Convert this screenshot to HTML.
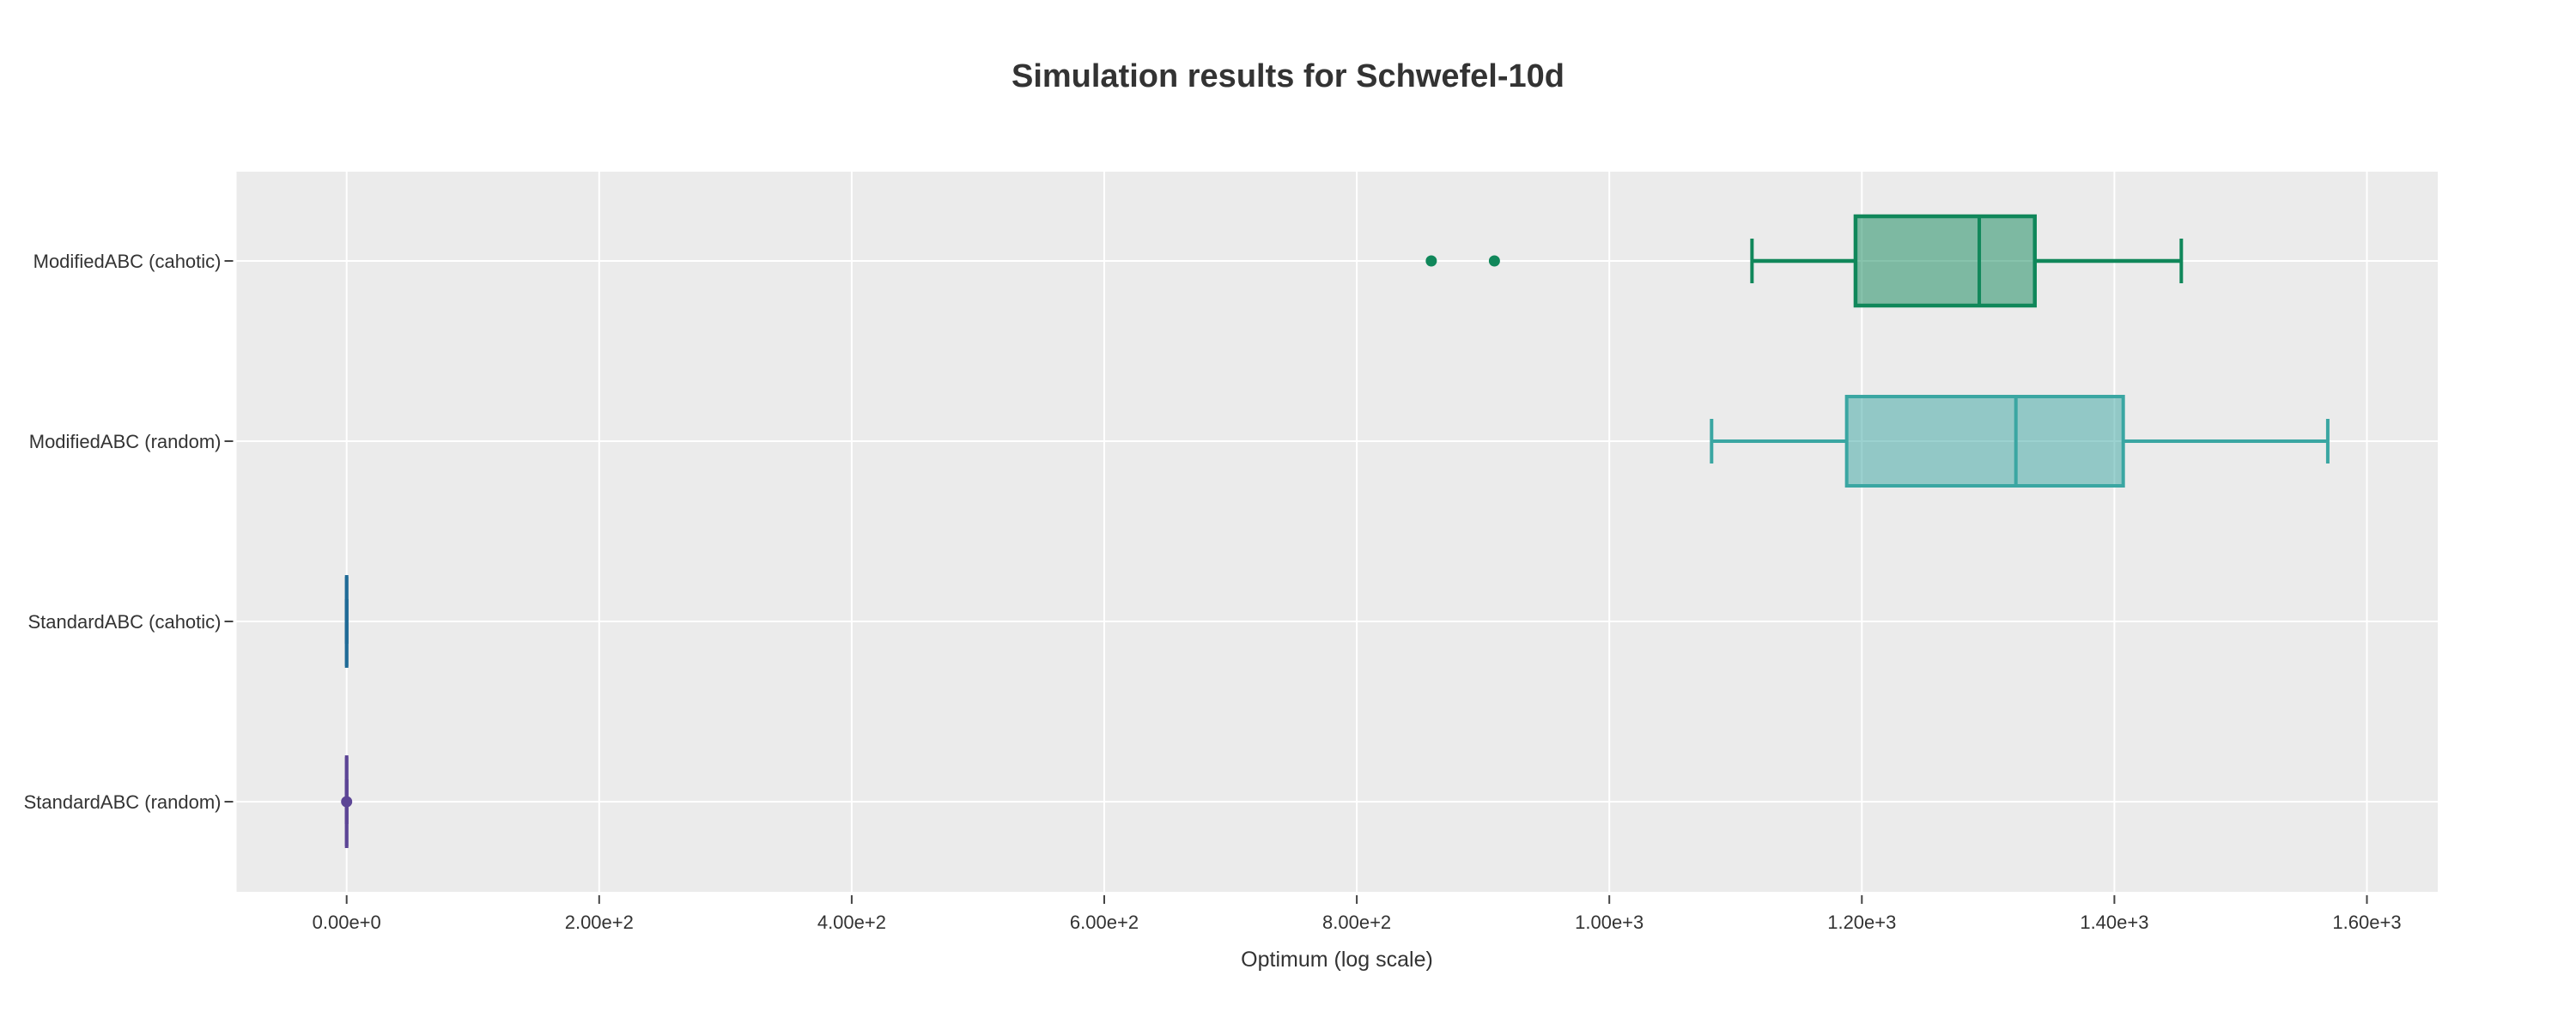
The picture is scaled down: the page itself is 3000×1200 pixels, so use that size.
<!DOCTYPE html>
<html><head><meta charset="utf-8"><style>
html,body{margin:0;padding:0;background:#fff;}
svg{display:block;font-family:"Liberation Sans",sans-serif;}
</style></head><body>
<svg id="chart" width="3000" height="1200" viewBox="0 0 3000 1200">
<rect x="0" y="0" width="3000" height="1200" fill="#fff"/>
<text x="1500" y="101" text-anchor="middle" font-size="38" font-weight="bold" fill="#333">Simulation results for Schwefel-10d</text>
<rect x="275.5" y="200" width="2563.5" height="839" fill="#ebebeb"/>
<g id="grid"></g>
<g id="marks"></g>
<g id="axes"></g>
<text x="1557" y="1126" text-anchor="middle" font-size="25" fill="#333">Optimum (log scale)</text>
</svg>
<script>
const categories = ["StandardABC (random)", "StandardABC (cahotic)", "ModifiedABC (random)", "ModifiedABC (cahotic)"];
const lowerWhisker = [0, 0, 1081, 1113];
const q1Values = [0, 0, 1188, 1195];
const medianValues = [0, 0, 1322, 1293];
const q3Values = [0, 0, 1407, 1337];
const upperWhisker = [0, 0, 1569, 1453];
const outliers = [[0], [], [], [859, 909]];
const xTicks = [0, 200, 400, 600, 800, 1000, 1200, 1400, 1600];
const xTickLabels = ["0.00e+0","2.00e+2","4.00e+2","6.00e+2","8.00e+2","1.00e+3","1.20e+3","1.40e+3","1.60e+3"];
const lineColors = ["#5c4595", "#1f6a96", "#3aa6a2", "#10875a"];
const fillColors = ["rgba(92,69,149,0.5)", "rgba(31,106,150,0.5)", "rgba(58,166,162,0.5)", "rgba(16,135,90,0.5)"];

const NS = "http://www.w3.org/2000/svg";
const PL = 275.5, PR = 2839, PT = 200, PB = 1039;
const X0 = 403.7, PXPER = 294.1 / 200;
function xs(v){ return X0 + v * PXPER; }
function ys(i){ return 934 - i * 210; }
function mk(tag, attrs, parent){
  const e = document.createElementNS(NS, tag);
  for (const k in attrs) e.setAttribute(k, attrs[k]);
  parent.appendChild(e); return e;
}
const grid = document.getElementById('grid');
const marks = document.getElementById('marks');
const axes = document.getElementById('axes');

xTicks.forEach((t, i) => {
  const x = xs(t);
  const g = mk('line', {x1:x, x2:x, y1:PT, y2:PB, stroke:'#fff', 'stroke-width':2}, grid);
  
  
  const tk = mk('line', {x1:x, x2:x, y1:PB+4, y2:PB+14, stroke:'#444', 'stroke-width':2}, axes);
  
  
  const tl = mk('text', {x:x, y:PB+43, 'text-anchor':'middle', 'font-size':22, fill:'#333'}, axes);
  tl.textContent = xTickLabels[i];
  
  
});
categories.forEach((c, i) => {
  const y = ys(i);
  const g = mk('line', {x1:PL, x2:PR, y1:y, y2:y, stroke:'#fff', 'stroke-width':2}, grid);
  
  
  const tk = mk('line', {x1:PL-14, x2:PL-4, y1:y, y2:y, stroke:'#444', 'stroke-width':2}, axes);
  
  
  const tl = mk('text', {x:PL-18, y:y+8, 'text-anchor':'end', 'font-size':22, fill:'#333'}, axes);
  tl.textContent = c;
  
  
});

categories.forEach((c, i) => {
  const y = ys(i), col = lineColors[i];
  const g = mk('g', {}, marks);
  
  
  const lo = xs(lowerWhisker[i]), a = xs(q1Values[i]), m = xs(medianValues[i]), b = xs(q3Values[i]), hi = xs(upperWhisker[i]);
  const sw = i === 3 ? 4.5 : 4;
  mk('line', {x1:lo, x2:a, y1:y, y2:y, stroke:col, 'stroke-width':sw}, g);
  mk('line', {x1:b, x2:hi, y1:y, y2:y, stroke:col, 'stroke-width':sw}, g);
  mk('line', {x1:lo, x2:lo, y1:y-26, y2:y+26, stroke:col, 'stroke-width':4}, g);
  mk('line', {x1:hi, x2:hi, y1:y-26, y2:y+26, stroke:col, 'stroke-width':4}, g);
  mk('rect', {x:a, y:y-52, width:Math.max(b-a, 0.01), height:104, fill:fillColors[i], stroke:col, 'stroke-width':sw}, g);
  mk('line', {x1:m, x2:m, y1:y-52, y2:y+52, stroke:col, 'stroke-width':4}, g);
  outliers[i].forEach(v => {
    const o = mk('circle', {cx:xs(v), cy:y, r:6.5, fill:col}, g);
    
    
  });
});
</script>
</body></html>
